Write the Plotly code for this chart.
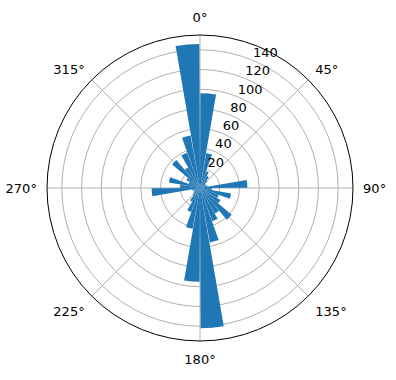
import plotly.graph_objects as go

bin_starts = [0, 10, 20, 30, 40, 50, 60, 70, 80, 90, 100, 110, 120, 130, 140, 150, 160, 170,
              180, 190, 200, 210, 220, 230, 240, 250, 260, 270, 280, 290, 300, 310, 320, 330, 340, 350]
counts = [96, 36, 18, 14, 10, 7, 6, 8, 48, 12, 32, 20, 24, 42, 30, 36, 56, 142,
          95, 42, 26, 16, 10, 8, 6, 8, 49, 20, 32, 12, 16, 37, 24, 38, 54, 146]
r_ticks = [20, 40, 60, 80, 100, 120, 140]
theta_ticks = [0, 45, 90, 135, 180, 225, 270, 315]
r_label_angle = 22.5

bin_width = 10
theta_centers = [b + bin_width / 2 for b in bin_starts]

fig = go.Figure()
fig.add_trace(go.Barpolar(
    r=counts,
    theta=theta_centers,
    width=[bin_width * 0.95] * len(counts),
    marker=dict(color="#1f77b4", line=dict(width=0)),
    opacity=1,
    hoverinfo="skip",
))
fig.add_trace(go.Scatterpolar(
    r=r_ticks,
    theta=[r_label_angle] * len(r_ticks),
    mode="text",
    text=[str(t) for t in r_ticks],
    textposition="top right",
    textfont=dict(family="DejaVu Sans", size=13, color="black"),
    hoverinfo="skip",
    cliponaxis=False,
))

W, H = 396, 380
cx, cy, R = 200, 188, 153
fig.update_layout(
    width=W, height=H,
    margin=dict(l=0, r=0, t=0, b=0),
    paper_bgcolor="white",
    showlegend=False,
    font=dict(family="DejaVu Sans", size=13, color="black"),
    polar=dict(
        domain=dict(x=[(cx - R) / W, (cx + R) / W], y=[(H - cy - R) / H, (H - cy + R) / H]),
        bgcolor="white",
        angularaxis=dict(
            rotation=90, direction="clockwise",
            tickmode="array", tickvals=theta_ticks, ticktext=[f"{t}°" for t in theta_ticks],
            showgrid=True, gridcolor="#b0b0b0", gridwidth=1,
            showline=True, linecolor="black", linewidth=1,
            ticks="outside", ticklen=7, tickcolor="rgba(0,0,0,0)",
            tickfont=dict(size=13, family="DejaVu Sans"),
        ),
        radialaxis=dict(
            range=[0, 155],
            tickmode="array", tickvals=r_ticks, showticklabels=False,
            showgrid=True, gridcolor="#b0b0b0", gridwidth=1,
            showline=False, ticks="",
        ),
    ),
)
fig.write_html("out.html")
